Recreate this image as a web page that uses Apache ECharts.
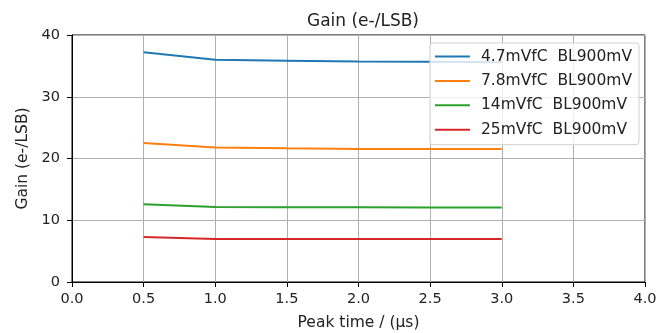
<!DOCTYPE html>
<html><head><meta charset="utf-8">
<script src="https://cdn.jsdelivr.net/npm/echarts@6/dist/echarts.min.js"></script>
<style>html,body{margin:0;padding:0;background:#fff}#c{width:657px;height:333px}</style>
</head><body><div id="c"></div>
<script>
const peakTimes = [0.5, 1.0, 1.5, 2.0, 2.5, 3.0];
const seriesNames = ['4.7mVfC  BL900mV', '7.8mVfC  BL900mV', '14mVfC  BL900mV', '25mVfC  BL900mV'];
const gain47 = [37.2, 36.0, 35.85, 35.7, 35.65, 35.6];
const gain78 = [22.5, 21.8, 21.65, 21.55, 21.55, 21.55];
const gain14 = [12.6, 12.15, 12.1, 12.1, 12.05, 12.05];
const gain25 = [7.3, 6.97, 6.95, 6.95, 6.95, 6.95];
const colors = ['#1f77b4', '#ff7f0e', '#2ca02c', '#d62728'];
const allGains = [gain47, gain78, gain14, gain25];
const font = 'DejaVu Sans';

const chart = echarts.init(document.getElementById('c'), null, {renderer: 'canvas'});
const axisCommon = {
  axisLine: {show: true, onZero: false, lineStyle: {color: '#000', width: 1}},
  axisTick: {show: true, inside: false, length: 5, lineStyle: {color: '#000'}},
  axisLabel: {color: '#222', fontFamily: font, fontSize: 14.5},
  splitLine: {show: true, lineStyle: {color: '#b0b0b0', width: 1}},
  nameTextStyle: {color: '#222', fontFamily: font, fontSize: 15.5}
};
chart.setOption({
  animation: false,
  color: colors,
  title: {text: 'Gain (e-/LSB)', left: 358, top: 8, textAlign: 'center',
    textStyle: {fontFamily: font, fontSize: 17, fontWeight: 'normal', color: '#222'}},
  grid: {left: 72, right: 12, top: 35, bottom: 51, outerBoundsMode: 'none', containLabel: false,
    show: true, borderColor: '#000', borderWidth: 1, backgroundColor: 'transparent'},
  legend: {
    orient: 'vertical', right: 18, top: 43,
    data: seriesNames,
    icon: 'rect', itemWidth: 35, itemHeight: 2, itemGap: 8.4,
    padding: [5.5, 7, 7, 5],
    backgroundColor: 'rgba(255,255,255,0.8)', borderColor: '#d0d0d0', borderWidth: 1, borderRadius: 3,
    textStyle: {fontFamily: font, fontSize: 15.5, lineHeight: 16, color: '#222', padding: [0, 0, 0, 6]}
  },
  xAxis: Object.assign({}, axisCommon, {
    type: 'value', min: 0, max: 4, interval: 0.5,
    name: 'Peak time / (μs)', nameLocation: 'middle', nameGap: 33,
    axisLabel: Object.assign({}, axisCommon.axisLabel, {formatter: v => v.toFixed(1), margin: 10})
  }),
  yAxis: Object.assign({}, axisCommon, {
    type: 'value', min: 0, max: 40, interval: 10,
    name: 'Gain (e-/LSB)', nameLocation: 'middle', nameGap: 40,
    axisLabel: Object.assign({}, axisCommon.axisLabel, {margin: 12})
  }),
  series: seriesNames.map((n, i) => ({
    name: n, type: 'line', showSymbol: false, symbol: 'none',
    lineStyle: {width: 2, color: colors[i]},
    data: peakTimes.map((x, j) => [x, allGains[i][j]])
  }))
});
</script></body></html>
